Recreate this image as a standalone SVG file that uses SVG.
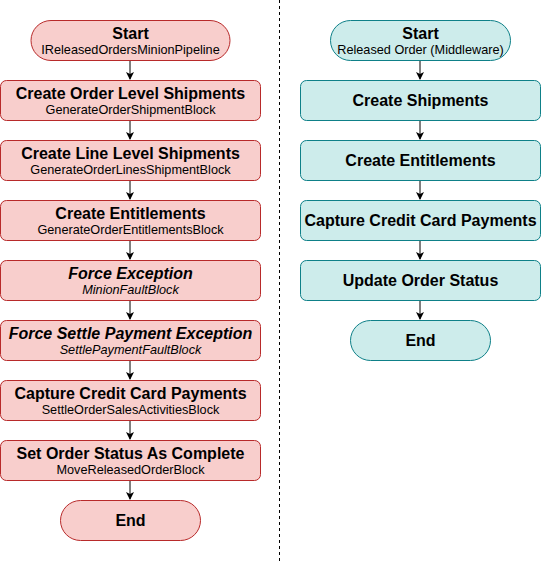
<svg xmlns="http://www.w3.org/2000/svg" width="541" height="562" viewBox="0 0 541 562">
<style>
.r{fill:#f8cecc;stroke:#b82a2a;stroke-width:1}
.t{fill:#cdeceb;stroke:#0e8088;stroke-width:1}
.h{font-family:"Liberation Sans",Arial,sans-serif;font-size:16px;font-weight:bold;fill:#000;text-anchor:middle}
.s{font-family:"Liberation Sans",Arial,sans-serif;font-size:12.7px;fill:#000;text-anchor:middle}
.i{font-style:italic}
.c{stroke:#000;stroke-width:1;fill:none;marker-end:url(#a)}
</style>
<defs>
<marker id="a" markerWidth="8" markerHeight="8" refX="7" refY="4" orient="auto" markerUnits="userSpaceOnUse">
<path d="M0,0 L8,4 L0,8 L2,4 Z" fill="#000"/>
</marker>
</defs>
<rect width="541" height="562" fill="#fff"/>
<line x1="279.5" y1="0" x2="279.5" y2="562" stroke="#000" stroke-dasharray="3,3"/>
<g id="connectors">
<line class="c" x1="130" y1="60" x2="130" y2="79"/>
<line class="c" x1="130" y1="120" x2="130" y2="139"/>
<line class="c" x1="130" y1="180" x2="130" y2="199"/>
<line class="c" x1="130" y1="240" x2="130" y2="259"/>
<line class="c" x1="130" y1="300" x2="130" y2="319"/>
<line class="c" x1="130" y1="360" x2="130" y2="379"/>
<line class="c" x1="130" y1="420" x2="130" y2="439"/>
<line class="c" x1="130" y1="480" x2="130" y2="499"/>
<line class="c" x1="420" y1="60" x2="420" y2="79"/>
<line class="c" x1="420" y1="120" x2="420" y2="139"/>
<line class="c" x1="420" y1="180" x2="420" y2="199"/>
<line class="c" x1="420" y1="240" x2="420" y2="259"/>
<line class="c" x1="420" y1="300" x2="420" y2="319"/>
</g>
<g id="l-start"><rect class="r" x="31" y="20.5" width="199" height="40" rx="20"/><text class="h" x="130.5" y="39">Start</text><text class="s" x="130.5" y="54">IReleasedOrdersMinionPipeline</text></g>
<g id="l-order"><rect class="r" x="0.5" y="80.5" width="260" height="40" rx="6"/><text class="h" x="130.5" y="99">Create Order Level Shipments</text><text class="s" x="130.5" y="114">GenerateOrderShipmentBlock</text></g>
<g id="l-line"><rect class="r" x="0.5" y="140.5" width="260" height="40" rx="6"/><text class="h" x="130.5" y="159">Create Line Level Shipments</text><text class="s" x="130.5" y="174">GenerateOrderLinesShipmentBlock</text></g>
<g id="l-ent"><rect class="r" x="0.5" y="200.5" width="260" height="40" rx="6"/><text class="h" x="130.5" y="219">Create Entitlements</text><text class="s" x="130.5" y="234">GenerateOrderEntitlementsBlock</text></g>
<g id="l-force"><rect class="r" x="0.5" y="260.5" width="260" height="40" rx="6"/><text class="h i" x="130.5" y="279">Force Exception</text><text class="s i" x="130.5" y="294">MinionFaultBlock</text></g>
<g id="l-settle"><rect class="r" x="0.5" y="320.5" width="260" height="40" rx="6"/><text class="h i" x="130.5" y="339">Force Settle Payment Exception</text><text class="s i" x="130.5" y="354">SettlePaymentFaultBlock</text></g>
<g id="l-capture"><rect class="r" x="0.5" y="380.5" width="260" height="40" rx="6"/><text class="h" x="130.5" y="399">Capture Credit Card Payments</text><text class="s" x="130.5" y="414">SettleOrderSalesActivitiesBlock</text></g>
<g id="l-status"><rect class="r" x="0.5" y="440.5" width="260" height="40" rx="6"/><text class="h" x="130.5" y="459">Set Order Status As Complete</text><text class="s" x="130.5" y="474">MoveReleasedOrderBlock</text></g>
<g id="l-end"><rect class="r" x="60.5" y="500.5" width="140" height="40" rx="20"/><text class="h" x="130.5" y="526">End</text></g>
<g id="r-start"><rect class="t" x="330.5" y="20.5" width="180" height="40" rx="20"/><text class="h" x="420.5" y="39">Start</text><text class="s" x="420.5" y="54">Released Order (Middleware)</text></g>
<g id="r-ship"><rect class="t" x="300.5" y="80.5" width="240" height="40" rx="6"/><text class="h" x="420.5" y="106">Create Shipments</text></g>
<g id="r-ent"><rect class="t" x="300.5" y="140.5" width="240" height="40" rx="6"/><text class="h" x="420.5" y="166">Create Entitlements</text></g>
<g id="r-capture"><rect class="t" x="300.5" y="200.5" width="240" height="40" rx="6"/><text class="h" x="420.5" y="226">Capture Credit Card Payments</text></g>
<g id="r-status"><rect class="t" x="300.5" y="260.5" width="240" height="40" rx="6"/><text class="h" x="420.5" y="286">Update Order Status</text></g>
<g id="r-end"><rect class="t" x="350.5" y="320.5" width="140" height="40" rx="20"/><text class="h" x="420.5" y="346">End</text></g>
</svg>
